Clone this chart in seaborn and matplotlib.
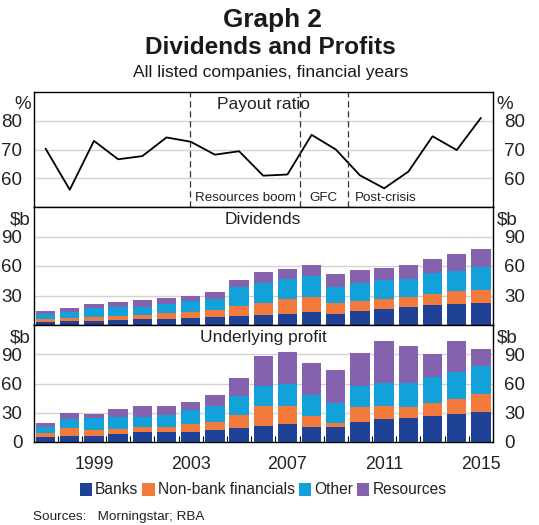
import matplotlib
matplotlib.use('Agg')
import matplotlib.pyplot as plt
from matplotlib.patches import Patch
from matplotlib.ticker import FixedLocator
import numpy as np
import seaborn as sns

years = list(range(1997, 2016))
payout_ratio = [70.3, 56.0, 73.0, 66.6, 67.7, 74.2, 72.7, 68.2, 69.4, 60.9,
                61.3, 75.1, 70.0, 61.0, 56.5, 62.3, 74.6, 69.8, 81.0]

# dividends, $b, by sector
div_banks = [3.1, 3.7, 4.1, 5.1, 5.8, 6.1, 7.2, 8.2, 9.2, 10.2,
             11.6, 13.0, 11.3, 14.7, 16.7, 18.1, 20.5, 21.5, 22.8]
div_nonbank = [3.0, 3.1, 3.7, 4.1, 4.4, 6.2, 6.4, 6.8, 10.2, 12.3,
               15.0, 15.6, 11.2, 10.2, 9.9, 9.9, 10.9, 12.9, 13.3]
div_other = [4.8, 6.8, 9.6, 8.9, 8.2, 9.5, 10.9, 11.3, 18.8, 20.1,
             19.8, 21.5, 16.4, 18.1, 19.1, 18.7, 21.1, 20.5, 22.9]
div_resources = [3.4, 3.4, 4.1, 5.1, 6.8, 5.5, 5.5, 7.1, 7.5, 11.3,
                 10.2, 11.3, 12.6, 12.6, 12.6, 14.7, 15.0, 17.4, 18.7]

# underlying profit, $b, by sector
prof_banks = [4.8, 5.8, 6.5, 8.2, 9.9, 10.6, 10.3, 12.0, 14.7, 16.1,
              18.2, 15.4, 15.1, 20.9, 23.7, 24.7, 26.7, 28.8, 30.9]
prof_nonbank = [4.5, 8.3, 6.2, 5.2, 5.2, 4.8, 7.9, 8.9, 13.1, 20.6,
                18.5, 11.7, 4.4, 14.8, 13.7, 11.3, 13.4, 15.1, 18.1]
prof_other = [6.1, 9.6, 11.6, 12.3, 10.6, 12.0, 14.4, 15.8, 19.2, 20.6,
              22.3, 21.2, 21.0, 21.6, 22.9, 25.0, 26.1, 27.4, 28.8]
prof_resources = [4.1, 5.8, 4.8, 8.2, 11.3, 9.6, 8.5, 11.6, 18.8, 30.8,
                  33.6, 32.6, 33.2, 33.9, 43.2, 37.4, 24.0, 32.2, 17.8]

tick_years = [1999, 2003, 2007, 2011, 2015]
sector_names = ['Banks', 'Non-bank financials', 'Other', 'Resources']
sector_colors = ['#1f4296', '#f27a3c', '#12a1d9', '#8462ad']

sns.set_theme(style='white')
plt.rcParams['font.family'] = ['Liberation Sans', 'DejaVu Sans']
plt.rcParams['font.size'] = 11

TXT = '#222222'
fig = plt.figure(figsize=(5.39, 5.25), dpi=100)
left, width = 33.5 / 539, 459.5 / 539
ax1 = fig.add_axes([left, 1 - 207 / 525, width, 115 / 525])
ax2 = fig.add_axes([left, 1 - 325 / 525, width, 118 / 525])
ax3 = fig.add_axes([left, 1 - 442 / 525, width, 117 / 525])

idx = np.arange(len(years))


def stacked(ax, layers):
    # draw cumulative totals from the top down so each layer shows
    tops = np.cumsum(layers, axis=0)
    for k in range(len(layers) - 1, -1, -1):
        sns.barplot(x=idx, y=tops[k], color=sector_colors[k], saturation=1,
                    width=0.8, ax=ax, linewidth=0)


stacked(ax2, [div_banks, div_nonbank, div_other, div_resources])
stacked(ax3, [prof_banks, prof_nonbank, prof_other, prof_resources])
sns.lineplot(x=idx, y=payout_ratio, color='black', linewidth=1.3, ax=ax1)

for ax, lim, ticks, unit, title in [
        (ax1, (50, 90), [60, 70, 80], '%', 'Payout ratio'),
        (ax2, (0, 120), [30, 60, 90], '$b', 'Dividends'),
        (ax3, (0, 120), [0, 30, 60, 90], '$b', 'Underlying profit')]:
    ax.set_xlim(-0.5, len(years) - 0.5)
    ax.set_ylim(*lim)
    ax.set_yticks(ticks)
    ax.set_yticklabels([str(t) for t in ticks])
    ax.yaxis.grid(True, color='#d2d2d2', linewidth=1)
    ax.set_axisbelow(True)
    ax.tick_params(axis='y', which='both', left=False, right=False,
                   labelleft=True, labelright=True, pad=2, labelsize=13.5,
                   colors=TXT)
    ax.set_xlabel('')
    ax.set_ylabel('')
    for s in ax.spines.values():
        s.set_color('black')
        s.set_linewidth(1)
    ax.text(-0.006, 0.965, unit, transform=ax.transAxes, ha='right',
            va='top', fontsize=13.5, color=TXT)
    ax.text(1.008, 0.965, unit, transform=ax.transAxes, ha='left', va='top',
            fontsize=13.5, color=TXT)
    ax.text(0.5, 0.955, title, transform=ax.transAxes, ha='center', va='top',
            fontsize=12.5, color=TXT)

for ax in (ax1, ax2):
    ax.tick_params(axis='x', which='both', bottom=False, labelbottom=False)

ax3.set_xticks([years.index(y) for y in tick_years])
ax3.set_xticklabels([str(y) for y in tick_years])
ax3.xaxis.set_minor_locator(FixedLocator(idx[:-1] + 0.5))
ax3.tick_params(axis='x', which='major', bottom=False, pad=4, labelsize=12.8,
                colors=TXT)
ax3.tick_params(axis='x', which='minor', bottom=True, direction='in',
                length=4, width=0.8, color='black')

# period dividers on the payout ratio panel
for xv in [5.96, 10.5, 12.5]:
    ax1.axvline(xv, color='#333333', linestyle=(0, (5, 3)), linewidth=0.9)
ax1.text(8.25, 53.2, 'Resources boom', ha='center', va='center',
         fontsize=9.6, color=TXT)
ax1.text(11.5, 53.2, 'GFC', ha='center', va='center', fontsize=9.6,
         color=TXT)
ax1.text(12.8, 53.2, 'Post-crisis', ha='left', va='center', fontsize=9.6,
         color=TXT)

fig.text(0.505, 1 - 20 / 525, 'Graph 2', ha='center', va='center',
         fontsize=18.8, fontweight='bold', color='#1a1a1a')
fig.text(0.502, 1 - 48 / 525, 'Dividends and Profits', ha='center',
         va='center', fontsize=17.6, fontweight='bold', color='#1a1a1a')
fig.text(0.502, 1 - 72 / 525, 'All listed companies, financial years',
         ha='center', va='center', fontsize=12.5, color='#1a1a1a')

handles = [Patch(facecolor=c, edgecolor='none') for c in sector_colors]
fig.legend(handles, sector_names, loc='center',
           bbox_to_anchor=(0.488, 1 - 490 / 525), ncol=4, frameon=False,
           fontsize=11.2, handlelength=0.8, handleheight=0.9,
           handletextpad=0.2, columnspacing=0.25, labelcolor=TXT)
fig.text(33 / 539, 1 - 517 / 525, 'Sources:   Morningstar; RBA', ha='left',
         va='center', fontsize=9.7, color=TXT)

fig.savefig('out.png', dpi=100)
